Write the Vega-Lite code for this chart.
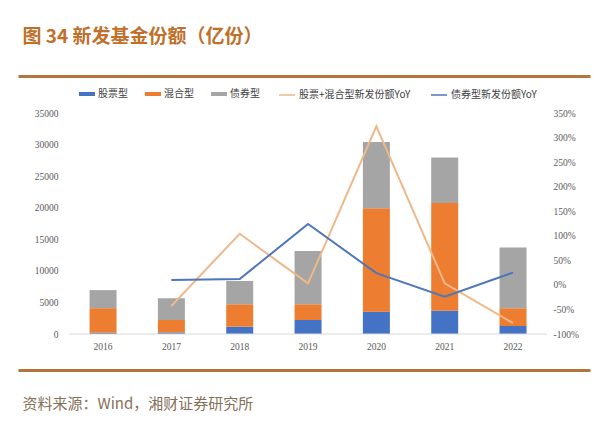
{
  "$schema": "https://vega.github.io/schema/vega-lite/v6.json",
  "autosize": {"type": "none"},
  "width": 572,
  "height": 221,
  "padding": {"left": 18, "top": 113, "right": 10, "bottom": 113},
  "background": "white",
  "config": {
    "view": {"stroke": null},
    "axis": {"grid": false, "labelFont": "Liberation Serif", "labelFontSize": 9.5, "labelColor": "#595959"},
    "legend": {"labelFont": "Noto Sans CJK SC", "labelFontSize": 10, "labelColor": "#404040", "labelOffset": 3, "columnPadding": 17}
  },
  "datasets": {
    "bars": [
      {"year": "2016", "type": "股票型", "value": 200},
      {"year": "2016", "type": "混合型", "value": 3890},
      {"year": "2016", "type": "债券型", "value": 2860},
      {"year": "2017", "type": "股票型", "value": 250},
      {"year": "2017", "type": "混合型", "value": 1970},
      {"year": "2017", "type": "债券型", "value": 3440},
      {"year": "2018", "type": "股票型", "value": 1160},
      {"year": "2018", "type": "混合型", "value": 3550},
      {"year": "2018", "type": "债券型", "value": 3690},
      {"year": "2019", "type": "股票型", "value": 2220},
      {"year": "2019", "type": "混合型", "value": 2490},
      {"year": "2019", "type": "债券型", "value": 8450},
      {"year": "2020", "type": "股票型", "value": 3540},
      {"year": "2020", "type": "混合型", "value": 16390},
      {"year": "2020", "type": "债券型", "value": 10470},
      {"year": "2021", "type": "股票型", "value": 3690},
      {"year": "2021", "type": "混合型", "value": 17040},
      {"year": "2021", "type": "债券型", "value": 7230},
      {"year": "2022", "type": "股票型", "value": 1270},
      {"year": "2022", "type": "混合型", "value": 2810},
      {"year": "2022", "type": "债券型", "value": 9610}
    ],
    "yoy": [
      {"year": "2017", "series": "股票+混合型新发份额YoY", "yoy": -43},
      {"year": "2018", "series": "股票+混合型新发份额YoY", "yoy": 104},
      {"year": "2019", "series": "股票+混合型新发份额YoY", "yoy": 3},
      {"year": "2020", "series": "股票+混合型新发份额YoY", "yoy": 323},
      {"year": "2021", "series": "股票+混合型新发份额YoY", "yoy": 3},
      {"year": "2022", "series": "股票+混合型新发份额YoY", "yoy": -78},
      {"year": "2017", "series": "债券型新发份额YoY", "yoy": 10},
      {"year": "2018", "series": "债券型新发份额YoY", "yoy": 12},
      {"year": "2019", "series": "债券型新发份额YoY", "yoy": 124},
      {"year": "2020", "series": "债券型新发份额YoY", "yoy": 24},
      {"year": "2021", "series": "债券型新发份额YoY", "yoy": -24},
      {"year": "2022", "series": "债券型新发份额YoY", "yoy": 25}
    ]
  },
  "layer": [
    {
      "data": {"name": "bars"},
      "mark": {"type": "bar"},
      "encoding": {
        "x": {
          "field": "year", "type": "nominal",
          "scale": {"paddingInner": 0.605, "paddingOuter": 0.988, "align": 0.53},
          "axis": {
            "orient": "bottom", "offset": 36, "domainColor": "#B5743A", "domainWidth": 3,
            "ticks": false, "labelPadding": -29, "labelAngle": 0,
            "title": "资料来源：Wind，湘财证券研究所",
            "titleFont": "Noto Sans CJK SC", "titleFontSize": 15, "titleFontWeight": "normal",
            "titleColor": "#85705A", "titleAnchor": "start", "titleAlign": "left",
            "titleBaseline": "middle", "titleX": 4, "titleY": 33
          }
        },
        "y": {
          "field": "value", "type": "quantitative", "stack": "zero",
          "scale": {"domain": [0, 35000], "nice": false},
          "axis": {
            "orient": "left", "offset": -43, "domain": false, "ticks": false, "labelPadding": 3,
            "values": [0, 5000, 10000, 15000, 20000, 25000, 30000, 35000], "format": "d", "title": null
          }
        },
        "fill": {
          "field": "type", "type": "nominal",
          "scale": {"domain": ["股票型", "混合型", "债券型"], "range": ["#4472C4", "#ED7D31", "#A5A5A5"]},
          "legend": {
            "title": null, "orient": "none", "direction": "horizontal", "legendX": 61, "legendY": -27,
            "symbolType": "M-1,-0.25H1V0.25H-1Z", "symbolSize": 256, "symbolStrokeWidth": 0
          }
        },
        "order": {"field": "type", "sort": "descending"}
      }
    },
    {
      "data": {"values": [{}]},
      "mark": {"type": "rule", "color": "#D9D9D9", "strokeWidth": 1},
      "encoding": {
        "x": {"datum": "2016", "type": "nominal", "bandPosition": -0.76, "axis": null},
        "x2": {"datum": "2022", "bandPosition": 1.76},
        "y": {"datum": 0, "type": "quantitative", "scale": {"domain": [0, 35000], "nice": false}, "axis": null}
      }
    },
    {
      "data": {"name": "yoy"},
      "mark": {"type": "line", "strokeWidth": 2},
      "encoding": {
        "x": {
          "field": "year", "type": "nominal",
          "axis": {
            "orient": "top", "offset": 37, "domainColor": "#B5743A", "domainWidth": 3,
            "ticks": false, "labels": false,
            "title": "图 34 新发基金份额（亿份）",
            "titleFont": "Noto Sans CJK SC", "titleFontSize": 19, "titleFontWeight": "bold",
            "titleColor": "#C0702B", "titleAnchor": "start", "titleAlign": "left",
            "titleBaseline": "middle", "titleX": 4, "titleY": -40
          }
        },
        "y": {
          "field": "yoy", "type": "quantitative",
          "scale": {"domain": [-100, 350], "nice": false},
          "axis": {
            "orient": "right", "offset": -40, "domain": false, "ticks": false, "labelPadding": 3,
            "values": [-100, -50, 0, 50, 100, 150, 200, 250, 300, 350],
            "labelExpr": "datum.value + '%'", "title": null
          }
        },
        "stroke": {
          "field": "series", "type": "nominal",
          "scale": {"domain": ["股票+混合型新发份额YoY", "债券型新发份额YoY"], "range": ["#EDB98A", "#4F76B8"]},
          "legend": {
            "title": null, "orient": "none", "direction": "horizontal", "legendX": 260, "legendY": -27,
            "symbolType": "stroke", "symbolSize": 256, "symbolStrokeWidth": 1.5
          }
        }
      }
    }
  ],
  "resolve": {
    "scale": {"y": "independent"},
    "axis": {"x": "independent", "y": "independent"}
  }
}
